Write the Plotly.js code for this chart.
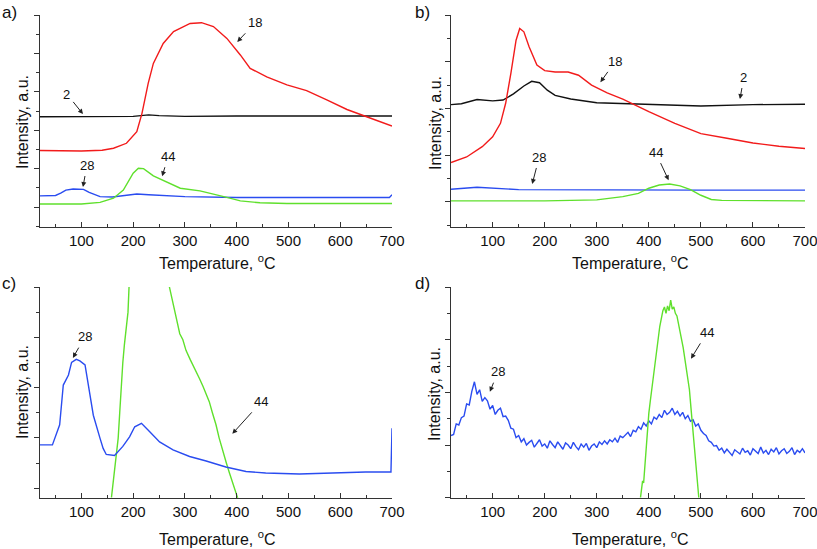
<!DOCTYPE html>
<html>
<head>
<meta charset="utf-8">
<script src="https://cdn.plot.ly/plotly-3.0.1.min.js"></script>
<style>html,body{margin:0;padding:0;background:#fff;}#chart{width:817px;height:549px;}</style>
</head>
<body>
<div id="chart"></div>
<script>
// ---------- tick labels ----------
const tempTicks = [100, 200, 300, 400, 500, 600, 700];

// ---------- panel a ----------
const aBlackT = [20, 100, 150, 200, 215, 230, 250, 300, 400, 500, 600, 700];
const aBlackY = [2.35, 2.35, 2.35, 2.36, 2.38, 2.40, 2.38, 2.36, 2.37, 2.37, 2.37, 2.37];
const aRedT = [20, 100, 140, 162, 187, 207, 217, 229, 239, 258, 278, 310, 332, 355, 381, 407, 426, 458, 497, 535, 574, 613, 651, 700];
const aRedY = [1.47, 1.46, 1.48, 1.53, 1.66, 1.96, 2.44, 3.22, 3.74, 4.26, 4.57, 4.78, 4.80, 4.70, 4.39, 3.96, 3.61, 3.39, 3.18, 3.03, 2.79, 2.54, 2.35, 2.11];
const aBlueT = [20, 50, 60, 70, 84, 104, 115, 136, 160, 190, 207, 230, 300, 400, 500, 600, 695, 700];
const aBlueY = [0.29, 0.30, 0.36, 0.44, 0.47, 0.46, 0.38, 0.27, 0.26, 0.30, 0.34, 0.32, 0.27, 0.25, 0.25, 0.25, 0.25, 0.32];
const aGreenT = [20, 100, 136, 162, 181, 191, 200, 210, 220, 239, 258, 291, 329, 355, 381, 407, 445, 497, 600, 700];
const aGreenY = [0.08, 0.08, 0.12, 0.23, 0.44, 0.66, 0.88, 1.01, 1.00, 0.81, 0.70, 0.49, 0.42, 0.34, 0.25, 0.16, 0.11, 0.09, 0.09, 0.09];

// ---------- panel b ----------
const bBlackT = [20, 40, 70, 100, 120, 140, 160, 175, 190, 205, 220, 250, 300, 400, 500, 600, 700];
const bBlackY = [2.08, 2.10, 2.19, 2.16, 2.18, 2.31, 2.48, 2.58, 2.55, 2.39, 2.28, 2.20, 2.12, 2.08, 2.05, 2.08, 2.09];
const bRedT = [20, 50, 80, 100, 115, 125, 135, 145, 152, 160, 170, 185, 200, 220, 245, 265, 290, 320, 350, 400, 450, 500, 550, 600, 650, 700];
const bRedY = [0.84, 0.96, 1.18, 1.39, 1.68, 2.11, 2.75, 3.46, 3.71, 3.64, 3.32, 2.93, 2.81, 2.78, 2.78, 2.71, 2.50, 2.33, 2.20, 1.93, 1.68, 1.46, 1.36, 1.26, 1.19, 1.14];
const bBlueT = [20, 70, 150, 300, 500, 700];
const bBlueY = [0.27, 0.31, 0.26, 0.25, 0.25, 0.25];
const bGreenT = [20, 200, 300, 350, 380, 400, 420, 440, 460, 480, 500, 520, 540, 700];
const bGreenY = [0.02, 0.02, 0.04, 0.11, 0.18, 0.29, 0.36, 0.38, 0.34, 0.26, 0.14, 0.05, 0.03, 0.02];

// ---------- panel c ----------
const cBlueT = [20, 44, 58, 65, 75, 81, 90, 97, 107, 113, 123, 136, 142, 148, 164, 180, 193, 203, 216, 232, 251, 277, 309, 341, 379, 418, 456, 521, 585, 649, 698, 700];
const cBlueY = [0.86, 0.86, 1.26, 2.05, 2.25, 2.50, 2.56, 2.53, 2.45, 2.05, 1.45, 0.99, 0.79, 0.67, 0.65, 0.83, 1.02, 1.22, 1.29, 1.12, 0.92, 0.76, 0.63, 0.54, 0.42, 0.33, 0.30, 0.28, 0.30, 0.32, 0.32, 1.19];
const cGreenT = [158, 161, 164, 167, 171, 174, 177, 180, 183, 186, 188, 190, 192, 196, 230, 262, 270, 280, 290, 296, 302, 310, 320, 328, 335, 341, 347, 353, 360, 366, 373, 380, 386, 392, 399, 402];
const cGreenY = [-0.19, 0.10, 0.40, 0.70, 0.99, 1.50, 2.05, 2.50, 2.85, 3.11, 3.30, 3.50, 4.00, 4.80, 6.00, 4.60, 4.00, 3.55, 3.07, 2.95, 2.74, 2.56, 2.36, 2.18, 2.02, 1.88, 1.72, 1.50, 1.26, 1.00, 0.73, 0.50, 0.30, 0.10, -0.13, -0.20];

// ---------- panel d ----------
const dBlueT = [20,25,30,35,40,45,50,55,60,65,70,75,80,85,90,95,100,105,110,115,120,125,130,135,140,145,150,155,160,165,170,175,180,185,190,195,200,205,210,215,220,225,230,235,240,245,250,255,260,265,270,275,280,285,290,295,300,305,310,315,320,325,330,335,340,345,350,355,360,365,370,375,380,385,390,395,400,405,410,415,420,425,430,435,440,445,450,455,460,465,470,475,480,485,490,495,500,505,510,515,520,525,530,535,540,545,550,555,560,565,570,575,580,585,590,595,600,605,610,615,620,625,630,635,640,645,650,655,660,665,670,675,680,685,690,695,700];
const dBlueY = [1.18,1.20,1.40,1.38,1.52,1.55,1.78,1.76,2.02,2.20,1.96,2.05,1.83,1.90,1.84,1.68,1.75,1.58,1.66,1.70,1.54,1.55,1.47,1.32,1.30,1.14,1.18,1.06,1.12,1.00,1.05,1.09,0.96,1.04,1.10,0.98,1.02,0.94,1.08,1.01,0.95,1.06,0.99,0.92,1.04,1.00,0.93,1.05,0.97,0.91,1.02,0.96,1.03,0.90,0.98,1.02,0.95,1.06,1.01,1.08,1.02,1.10,1.06,1.13,1.05,1.17,1.14,1.20,1.24,1.16,1.28,1.25,1.35,1.30,1.42,1.36,1.46,1.40,1.53,1.49,1.58,1.52,1.66,1.58,1.62,1.70,1.58,1.64,1.55,1.62,1.50,1.56,1.45,1.48,1.36,1.40,1.28,1.22,1.18,1.08,1.05,0.98,0.99,0.90,0.94,0.85,0.92,0.86,0.80,0.91,0.87,0.83,0.94,0.86,0.89,0.81,0.93,0.88,0.84,0.96,0.85,0.90,0.82,0.92,0.87,0.95,0.83,0.89,0.93,0.84,0.88,0.95,0.82,0.90,0.86,0.93,0.85];
const dGreenT = [384,386,388,390,392,394,396,398,400,403,406,409,412,415,418,421,424,427,430,433,436,439,442,445,448,451,454,457,460,463,466,469,472,475,478,481,484,487,490,493,496];
const dGreenY = [0,0.20,0.32,0.28,0.55,0.90,1.25,1.45,1.60,1.85,2.10,2.32,2.55,2.80,2.98,3.25,3.40,3.55,3.62,3.50,3.64,3.55,3.75,3.58,3.62,3.50,3.45,3.30,3.18,3.00,2.85,2.65,2.45,2.25,2.05,1.70,1.35,1.05,0.70,0.35,0];

// ---------- styling ----------
const RED = '#f21b1b', BLACK = '#111111', BLUE = '#2a4cf0', GREEN = '#5fe02c';
const FONT = 'Liberation Sans, Arial, sans-serif';
const W = 817, H = 549;

function tr(x, y, color, xa, ya) {
  return {x: x, y: y, type: 'scatter', mode: 'lines', xaxis: xa, yaxis: ya,
          line: {color: color, width: 1.4}, hoverinfo: 'skip', showlegend: false};
}

const data = [
  tr(aBlackT, aBlackY, BLACK, 'x', 'y'),
  tr(aRedT, aRedY, RED, 'x', 'y'),
  tr(aBlueT, aBlueY, BLUE, 'x', 'y'),
  tr(aGreenT, aGreenY, GREEN, 'x', 'y'),
  tr(bBlackT, bBlackY, BLACK, 'x2', 'y2'),
  tr(bRedT, bRedY, RED, 'x2', 'y2'),
  tr(bBlueT, bBlueY, BLUE, 'x2', 'y2'),
  tr(bGreenT, bGreenY, GREEN, 'x2', 'y2'),
  tr(cGreenT, cGreenY, GREEN, 'x3', 'y3'),
  tr(cBlueT, cBlueY, BLUE, 'x3', 'y3'),
  tr(dBlueT, dBlueY, BLUE, 'x4', 'y4'),
  tr(dGreenT, dGreenY, GREEN, 'x4', 'y4')
];

function xax(domain, anchor) {
  return {domain: domain, anchor: anchor, range: [20, 700], tickmode: 'array', tickvals: tempTicks,
    ticktext: tempTicks.map(String), ticks: 'inside', ticklen: 5, tickwidth: 1, tickcolor: '#333',
    showline: true, linecolor: '#333', linewidth: 1, showgrid: false, zeroline: false,
    ticklabeloverflow: 'allow',
    minor: {tickmode: 'linear', tick0: 50, dtick: 100, ticks: 'inside', ticklen: 3, tickcolor: '#333', showgrid: false},
    tickfont: {family: FONT, size: 15, color: '#111'}, fixedrange: true};
}
function yax(domain, anchor, range) {
  return {domain: domain, anchor: anchor, range: range, tick0: 0, dtick: 1, ticks: 'outside', ticklen: 5,
    tickwidth: 1, tickcolor: '#333', showticklabels: false, showline: true, linecolor: '#333',
    linewidth: 1, showgrid: false, zeroline: false,
    minor: {tick0: 0.5, dtick: 1, ticks: 'outside', ticklen: 3, tickcolor: '#333', showgrid: false},
    fixedrange: true};
}
const px = v => v / W, py = v => 1 - v / H;
const xL = [px(40), px(392)], xR = [px(451), px(805)];
const yT = [py(227), py(15)], yB = [py(497.7), py(287)];

const ann = [];
function lab(text, x, y, ax, ay, xr, yr) {
  ann.push({text: text, x: x, y: y, xref: xr, yref: yr, ax: ax, ay: ay, showarrow: true,
    arrowhead: 2, arrowsize: 1, arrowwidth: 1, arrowcolor: '#222', standoff: 0, startstandoff: 2,
    font: {family: FONT, size: 13, color: '#111'}});
}
lab('2', 103, 2.42, -16, -20, 'x', 'y');
lab('18', 401, 4.30, 18, -19, 'x', 'y');
lab('28', 103, 0.52, 4, -22, 'x', 'y');
lab('44', 256, 0.80, 6, -20, 'x', 'y');
lab('18', 307, 2.56, 15, -21, 'x2', 'y2');
lab('2', 575, 2.20, 4, -22, 'x2', 'y2');
lab('28', 176, 0.38, 7, -27, 'x2', 'y2');
lab('44', 438, 0.46, -13, -28, 'x2', 'y2');
lab('28', 83.5, 2.59, 12, -21, 'x3', 'y3');
lab('44', 391.5, 1.08, 29, -32, 'x3', 'y3');
lab('28', 94.7, 2.01, 8, -20, 'x4', 'y4');
lab('44', 481, 2.64, 16, -26, 'x4', 'y4');

function txt(text, x, y, size, angle, xanchor) {
  ann.push({text: text, x: px(x), y: py(y), xref: 'paper', yref: 'paper', showarrow: false,
    xanchor: xanchor || 'center', yanchor: 'middle', textangle: angle || 0,
    font: {family: FONT, size: size, color: '#111'}});
}
// panel letters
txt('a)', 0, 13, 17, 0, 'left');
txt('b)', 413, 13, 17, 0, 'left');
txt('c)', 0, 283, 17, 0, 'left');
txt('d)', 413, 283, 17, 0, 'left');
// axis titles
const xTitle = 'Temperature, <sup>o</sup>C';
const yTitle = 'Intensity, a.u.';
txt(xTitle, 217, 262, 16);
txt(xTitle, 630, 262, 16);
txt(xTitle, 217, 538, 16);
txt(xTitle, 630, 538, 16);
txt(yTitle, 22, 122, 16, -90);
txt(yTitle, 435, 123, 16, -90);
txt(yTitle, 22, 392, 16, -90);
txt(yTitle, 435, 394, 16, -90);

const layout = {
  width: W, height: H, margin: {l: 0, r: 0, t: 0, b: 0},
  paper_bgcolor: '#fff', plot_bgcolor: '#fff', showlegend: false,
  font: {family: FONT, color: '#111'},
  xaxis: xax(xL, 'y'), yaxis: yax(yT, 'x', [-0.52, 5]),
  xaxis2: xax(xR, 'y2'), yaxis2: yax(yT, 'x2', [-0.54, 4]),
  xaxis3: xax(xL, 'y3'), yaxis3: yax(yB, 'x3', [-0.19, 4]),
  xaxis4: xax(xR, 'y4'), yaxis4: yax(yB, 'x4', [0, 4]),
  annotations: ann
};
Plotly.newPlot('chart', data, layout, {staticPlot: true, displayModeBar: false});
</script>
</body>
</html>
